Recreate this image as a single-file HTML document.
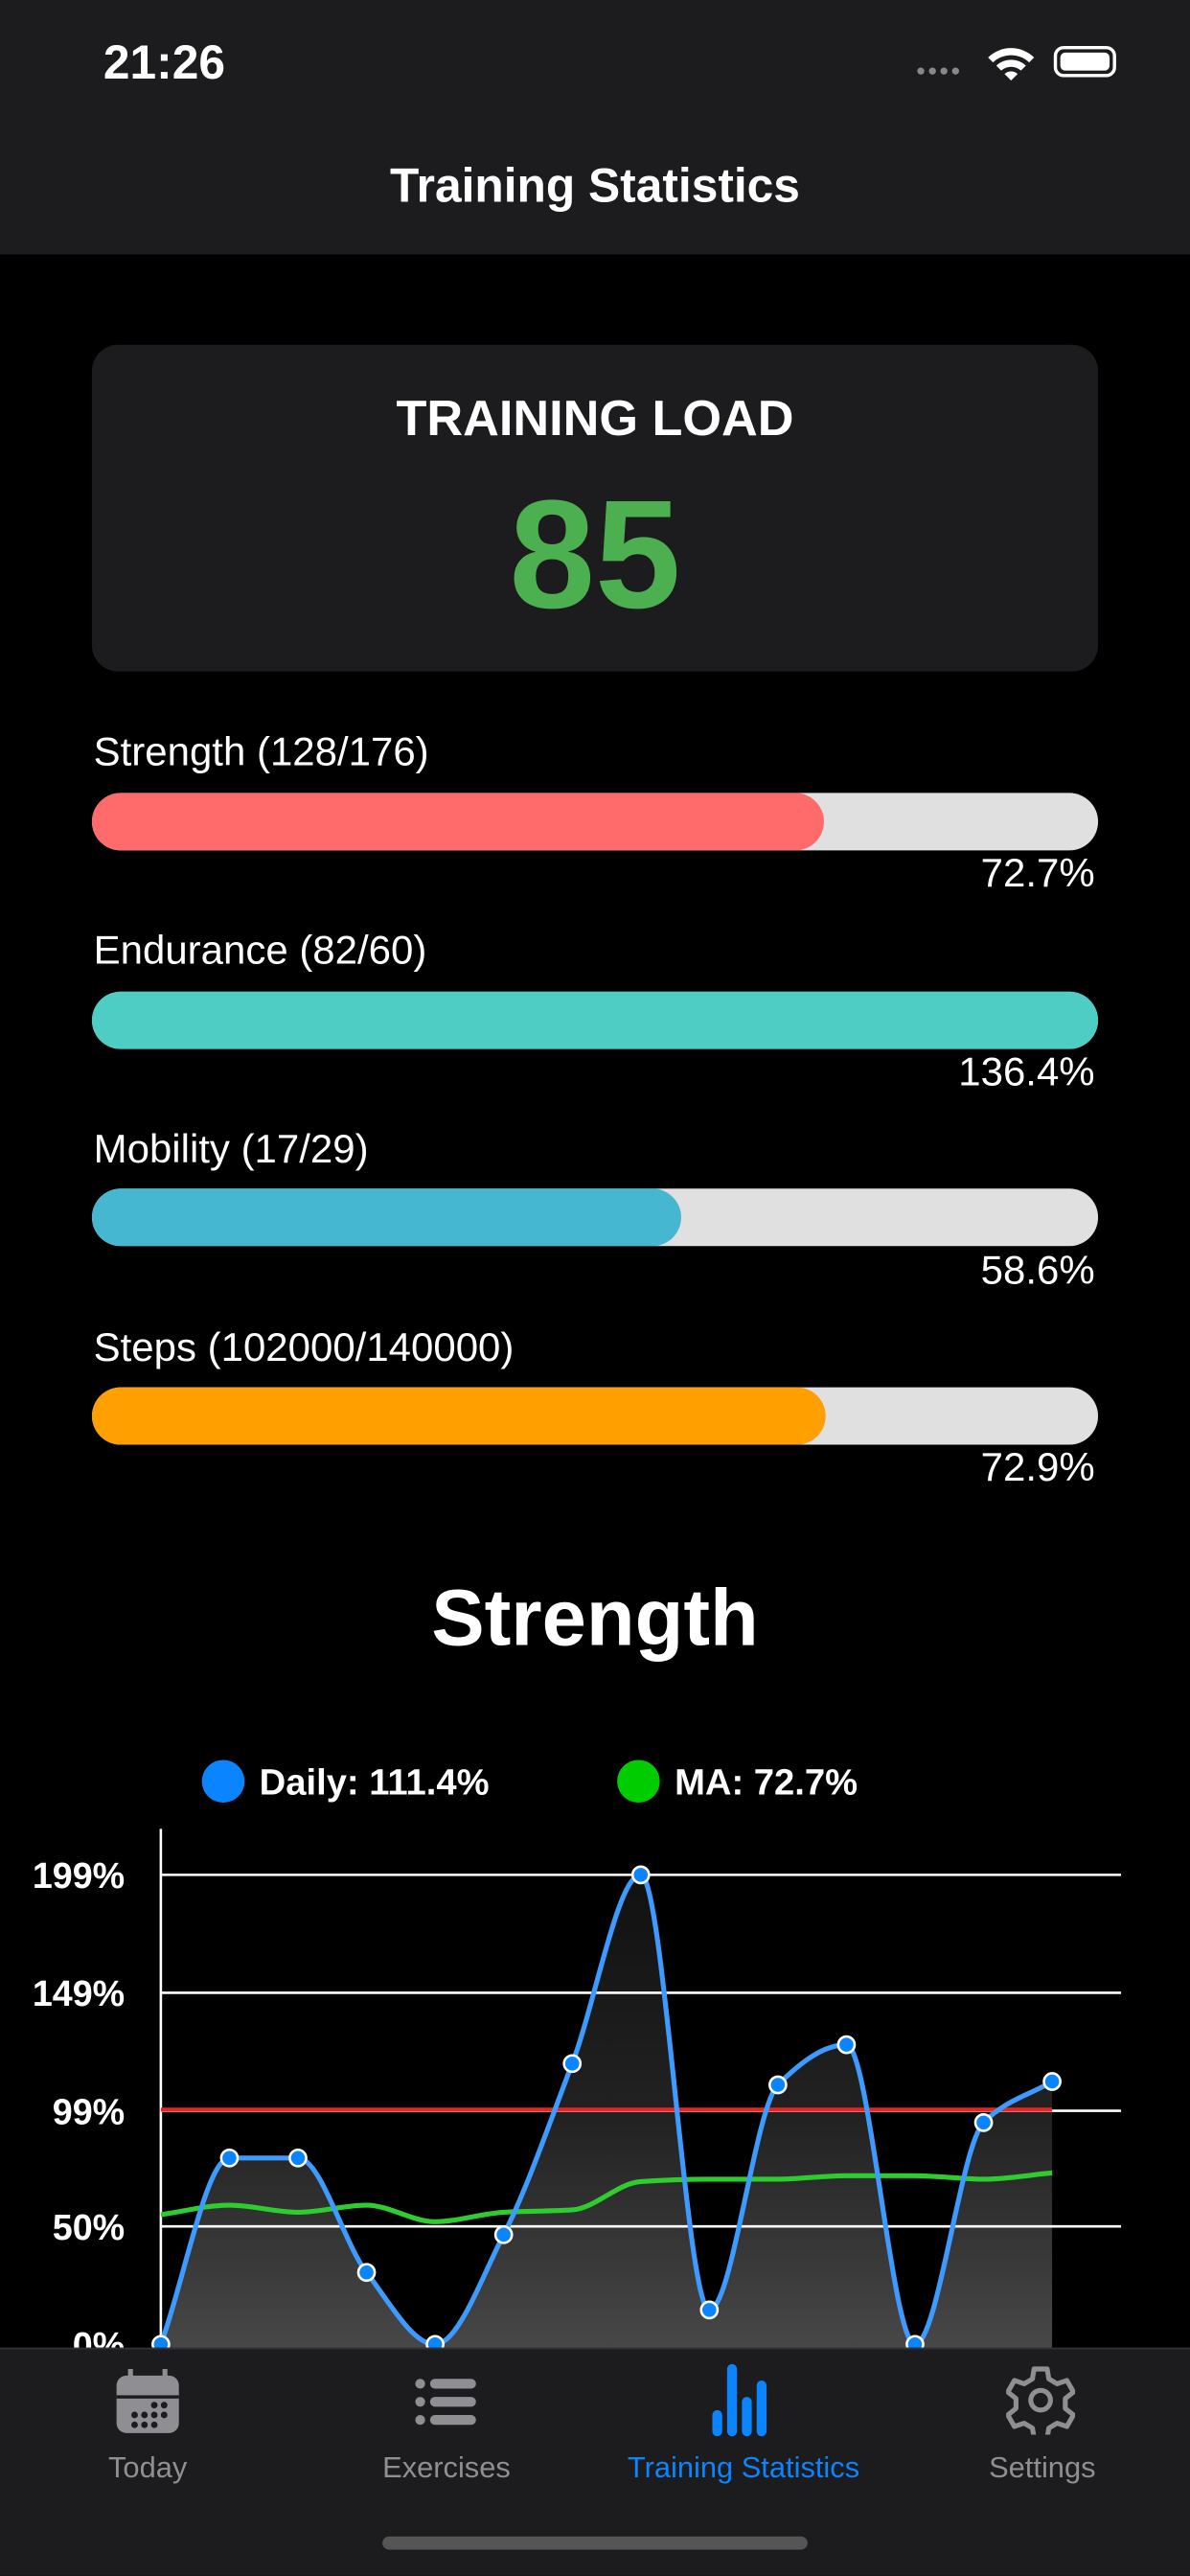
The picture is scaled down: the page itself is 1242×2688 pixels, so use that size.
<!DOCTYPE html>
<html><head><meta charset="utf-8">
<style>
html,body{margin:0;padding:0;background:#000;width:1242px;height:2688px;overflow:hidden}
#root{position:absolute;left:0;top:0;width:725px;height:1569px;transform:scale(1.7131);transform-origin:0 0;font-family:"Liberation Sans",sans-serif;color:#fff;background:#000;overflow:hidden}
.abs{position:absolute}
.bar{position:absolute;left:56px;width:613px;height:35px;border-radius:17.5px;background:#e0e0e0;overflow:hidden}
.fill{position:absolute;left:0;top:0;height:100%;border-radius:17.5px}
.lbl{position:absolute;left:57px;font-size:24.5px}
.pct{position:absolute;right:58px;font-size:24.5px;text-align:right}
.tab{position:absolute;top:1493px;width:180px;text-align:center;font-size:18px;color:#8e8e93}
</style></head><body>
<div id="root">
<div class="abs" style="left:0;top:0;width:725px;height:155px;background:#1c1c1e">
  <div class="abs" style="left:63px;top:23px;font-size:29px;font-weight:bold">21:26</div>
  <div class="abs" style="left:558px;top:38px;font-size:10px;color:#888;letter-spacing:1px">●●●●</div>
  <svg class="abs" style="left:600px;top:27px" width="32" height="24" viewBox="0 0 32 24"><path d="M2 8 A20 20 0 0 1 30 8 L27 11 A16 16 0 0 0 5 11Z M7 13 A13 13 0 0 1 25 13 L22 16 A9 9 0 0 0 10 16Z M12 18 A6 6 0 0 1 20 18 L16 22Z" fill="#fff"/></svg>
  <div class="abs" style="left:642px;top:28px;width:38px;height:19px;border:2px solid #fff;border-radius:6px;box-sizing:border-box;padding:2px"><div style="width:100%;height:100%;background:#fff;border-radius:3px"></div></div>
  <div class="abs" style="left:0;width:725px;top:98px;text-align:center;font-size:29px;font-weight:bold">Training Statistics</div>
</div>
<div class="abs" style="left:56px;top:210px;width:613px;height:199px;background:#1c1c1e;border-radius:16px">
  <div class="abs" style="left:0;width:613px;top:28px;text-align:center;font-size:30.5px;font-weight:bold">TRAINING LOAD</div>
  <div class="abs" style="left:0;width:613px;top:74px;text-align:center;font-size:94px;font-weight:bold;color:#4caf50">85</div>
</div>
<div class="lbl" style="top:445px">Strength (128/176)</div>
<div class="bar" style="top:483px"><div class="fill" style="width:446px;background:#ff6b6b"></div></div>
<div class="pct" style="top:519px">72.7%</div>
<div class="lbl" style="top:566px">Endurance (82/60)</div>
<div class="bar" style="top:604px"><div class="fill" style="width:613px;background:#4ecdc4"></div></div>
<div class="pct" style="top:640px">136.4%</div>
<div class="lbl" style="top:687px">Mobility (17/29)</div>
<div class="bar" style="top:724px"><div class="fill" style="width:359px;background:#45b7d1"></div></div>
<div class="pct" style="top:761px">58.6%</div>
<div class="lbl" style="top:808px">Steps (102000/140000)</div>
<div class="bar" style="top:845px"><div class="fill" style="width:447px;background:#ff9f00"></div></div>
<div class="pct" style="top:881px">72.9%</div>
<div class="abs" style="left:0;width:725px;top:958px;text-align:center;font-size:48.5px;font-weight:bold">Strength</div>
<svg id="chart" class="abs" style="left:0;top:1060px" width="725" height="370" viewBox="0 1060 725 370"></svg>
<div class="abs" style="left:0;top:1430px;width:725px;height:139px;background:#1c1c1e;border-top:1px solid #333">
</div>
<svg class="abs" style="left:70px;top:1443px" width="40" height="40" viewBox="0 0 40 40"><rect x="1" y="4" width="38" height="35" rx="6" fill="#8e8e93"/><rect x="1" y="16" width="38" height="2" fill="#1c1c1e"/><rect x="8" y="0" width="3" height="6" fill="#8e8e93"/><rect x="29" y="0" width="3" height="6" fill="#8e8e93"/><g fill="#1c1c1e"><circle cx="24" cy="22" r="2"/><circle cx="30" cy="22" r="2"/><circle cx="12" cy="28" r="2"/><circle cx="18" cy="28" r="2"/><circle cx="24" cy="28" r="2"/><circle cx="30" cy="28" r="2"/><circle cx="12" cy="34" r="2"/><circle cx="18" cy="34" r="2"/><circle cx="24" cy="34" r="2"/></g></svg>
<svg class="abs" style="left:252px;top:1448px" width="40" height="30" viewBox="0 0 40 30"><g fill="#8e8e93"><circle cx="4" cy="4" r="3"/><circle cx="4" cy="15" r="3"/><circle cx="4" cy="26" r="3"/><rect x="10" y="1" width="28" height="6" rx="3"/><rect x="10" y="12" width="28" height="6" rx="3"/><rect x="10" y="23" width="28" height="6" rx="3"/></g></svg>
<svg class="abs" style="left:433px;top:1440px" width="40" height="44" viewBox="0 0 40 44"><g fill="#0a84ff"><rect x="1" y="28" width="6" height="16" rx="3"/><rect x="10" y="0" width="6" height="44" rx="3"/><rect x="19" y="20" width="6" height="24" rx="3"/><rect x="28" y="10" width="6" height="34" rx="3"/></g></svg>
<svg class="abs" style="left:613px;top:1441px" width="42" height="42" viewBox="0 0 42 42"><path d="M17 2h8l1 6 5 3 6-2 4 7-5 4v6l5 4-4 7-6-2-5 3-1 6h-8l-1-6-5-3-6 2-4-7 5-4v-6l-5-4 4-7 6 2 5-3z" fill="none" stroke="#8e8e93" stroke-width="3" stroke-linejoin="round"/><circle cx="21" cy="21" r="6" fill="none" stroke="#8e8e93" stroke-width="3"/></svg>
<div class="tab" style="left:0">Today</div>
<div class="tab" style="left:182px">Exercises</div>
<div class="tab" style="left:363px;color:#0a84ff">Training Statistics</div>
<div class="tab" style="left:545px">Settings</div>
<div class="abs" style="left:233px;top:1545px;width:259px;height:8px;border-radius:4px;background:#555"></div>
</div>
<script>
const dailyValues=[0,79,79,30.5,0,46.5,119,199,14.6,110,127,0,94,111.4];
const maValues=[55,59,56,59,52,56,57,69,70,70,71.5,71.5,70,72.7];
const tickValues=[0,50,99,149,199];
const tickLabels=['0%','50%','99%','149%','199%'];
const targetValue=99.5;
const legendLabels=['Daily: 111.4%','MA: 72.7%'];
const NS='http://www.w3.org/2000/svg';
const svg=document.getElementById('chart');
const x0=98,x1=641,yBase=1428,yTop=1142,vMax=199;
const xs=i=>x0+(x1-x0)*i/(dailyValues.length-1);
const ys=v=>yBase-(yBase-yTop)*v/vMax;
function mk(t,a){const e=document.createElementNS(NS,t);for(const k in a)e.setAttribute(k,a[k]);svg.appendChild(e);return e;}
function curve(vals){
 const p=vals.map((v,i)=>[xs(i),ys(v)]);const n=p.length;const h=p[1][0]-p[0][0];
 const dl=[];for(let i=0;i<n-1;i++)dl.push((p[i+1][1]-p[i][1])/h);
 const m=[];m[0]=dl[0];m[n-1]=dl[n-2];
 for(let i=1;i<n-1;i++){m[i]=(dl[i-1]*dl[i]<=0)?0:(2*dl[i-1]*dl[i])/(dl[i-1]+dl[i]);}
 let d='M'+p[0][0]+','+p[0][1];
 for(let i=0;i<n-1;i++){d+=` C${p[i][0]+h/3},${p[i][1]+m[i]*h/3} ${p[i+1][0]-h/3},${p[i+1][1]-m[i+1]*h/3} ${p[i+1][0]},${p[i+1][1]}`;}
 return d;}
const defs=mk('defs',{});
const g=document.createElementNS(NS,'linearGradient');g.setAttribute('id','gf');g.setAttribute('x1','0');g.setAttribute('y1','0');g.setAttribute('x2','0');g.setAttribute('y2','1');
g.innerHTML='<stop offset="0" stop-color="#111"/><stop offset="0.5" stop-color="#222"/><stop offset="1" stop-color="#4a4a4a"/>';defs.appendChild(g);
const area=mk('path',{d:curve(dailyValues)+` L${x1},1440 L${x0},1440 Z`,fill:'url(#gf)'});


tickValues.forEach((v,i)=>{
 if(v>0){const l=mk('line',{x1:x0,x2:683,y1:ys(v),y2:ys(v),stroke:'#fff','stroke-width':1.5});
 
 }
 const t=mk('text',{x:76,y:ys(v)+8,'text-anchor':'end','font-size':22,'font-weight':'bold',fill:'#fff','font-family':'Liberation Sans, sans-serif'});
 
 
 t.textContent=tickLabels[i];
});
const ax=mk('line',{x1:x0,x2:x0,y1:1114,y2:1440,stroke:'#fff','stroke-width':1.5});


const tl=mk('line',{x1:x0,x2:x1,y1:ys(targetValue),y2:ys(targetValue),stroke:'#ee2222','stroke-width':2.5});


const ma=mk('path',{d:curve(maValues),fill:'none',stroke:'#2ecc2e','stroke-width':3});


const dln=mk('path',{d:curve(dailyValues),fill:'none',stroke:'#3d9bff','stroke-width':3});


dailyValues.forEach((v,i)=>{const c=mk('circle',{cx:xs(i),cy:ys(v),r:5,fill:'#0a84ff',stroke:'#fff','stroke-width':1.5});

});
[[136,'#0a84ff',158],[389,'#00cc00',411]].forEach((L,i)=>{
 const c=mk('circle',{cx:L[0],cy:1085,r:13,fill:L[1]});
 
 
 const t=mk('text',{x:L[2],y:1093,'font-size':22.3,'font-weight':'bold',fill:'#fff','font-family':'Liberation Sans, sans-serif'});
 
 
 t.textContent=legendLabels[i];
});
</script>
</body></html>
